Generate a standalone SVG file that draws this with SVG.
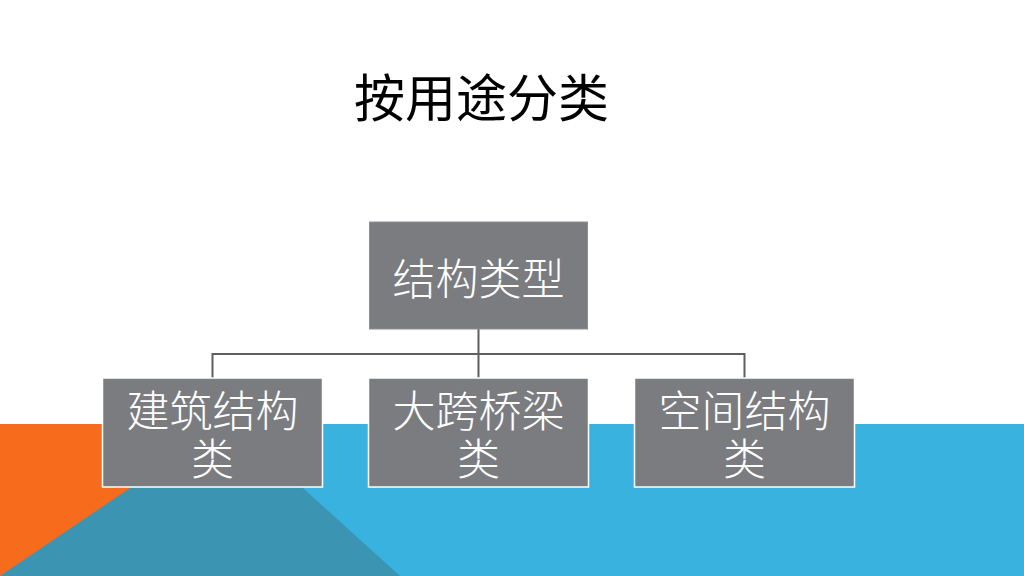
<svg xmlns="http://www.w3.org/2000/svg" width="1024" height="576" viewBox="0 0 1024 576">
<style>
.box{fill:#7B7C80;stroke:#FFFFFF;stroke-width:1.5}
.top{fill:#7B7C80;stroke:#8E8F93;stroke-width:1}
.lbl{font-family:"Noto Sans CJK SC","Noto Sans",sans-serif;font-size:43px;font-weight:300;fill:#FFFFFF;text-anchor:middle}
.title{font-family:"Noto Sans CJK SC","Noto Sans",sans-serif;font-size:51px;fill:#000000;text-anchor:middle}
.conn{fill:none;stroke:#5E5F63;stroke-width:2}
</style>
<rect width="1024" height="576" fill="#FFFFFF"/>
<g id="background">
<rect x="0" y="424" width="1024" height="152" fill="#3AB2DF"/>
<polygon points="0,424 228,424 0,576" fill="#F76B1C"/>
<polygon points="0,576 229,421 400,576" fill="#3A94B2"/>
</g>
<text class="title" x="481.5" y="117">按用途分类</text>
<g id="connectors">
<path class="conn" d="M478.5,329 V378 M212.5,378 V354 H744.5 V378"/>
</g>
<g id="node-root">
<rect class="top" x="369.5" y="222" width="218" height="107"/>
<text class="lbl" x="478.5" y="295">结构类型</text>
</g>
<g id="node-building">
<rect class="box" x="102.5" y="378" width="220" height="109"/>
<text class="lbl" x="212.5" y="427">建筑结构<tspan x="212.5" dy="48">类</tspan></text>
</g>
<g id="node-bridge">
<rect class="box" x="368.5" y="378" width="220" height="109"/>
<text class="lbl" x="478.5" y="427">大跨桥梁<tspan x="478.5" dy="48">类</tspan></text>
</g>
<g id="node-space">
<rect class="box" x="634.5" y="378" width="220" height="109"/>
<text class="lbl" x="744.5" y="427">空间结构<tspan x="744.5" dy="48">类</tspan></text>
</g>
</svg>
